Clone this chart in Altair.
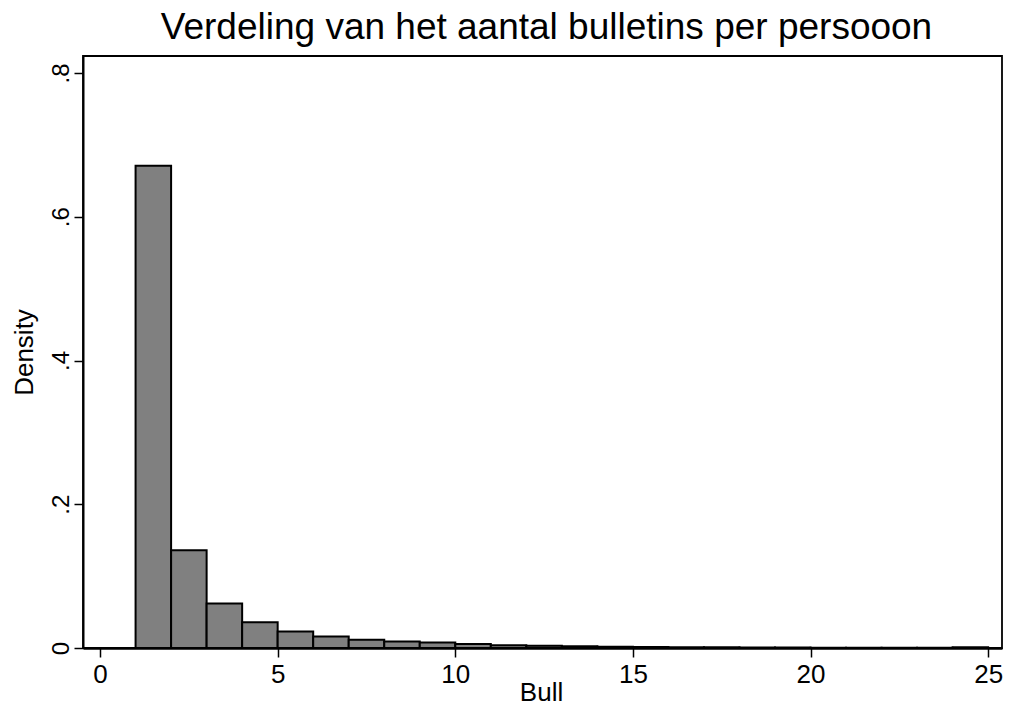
import altair as alt
import pandas as pd

# Histogram bins (width 1) and densities
bin_start = list(range(1, 25))
density = [0.671, 0.136, 0.062, 0.036, 0.023, 0.016, 0.0115, 0.0092, 0.0075,
           0.0055, 0.004, 0.003, 0.0024, 0.0018, 0.0014, 0.0011, 0.0009, 0.0008,
           0.0006, 0.0005, 0.0004, 0.0003, 0.0003, 0.0012]
x_ticks = [0, 5, 10, 15, 20, 25]
y_ticks = [0, 0.2, 0.4, 0.6, 0.8]

df = pd.DataFrame({
    "start": bin_start,
    "end": [s + 1 for s in bin_start],
    "density": density,
})

FONT = "Liberation Sans"
W = 919
H = 592

bars = alt.Chart(df).mark_bar(
    fill="#808080", stroke="black", strokeWidth=2
).encode(
    x=alt.X(
        "start:Q",
        scale=alt.Scale(domain=[-0.48, 25.39], nice=False, zero=False),
        axis=alt.Axis(
            values=x_ticks, format="d", title="Bull", grid=False,
            domain=True, domainColor="black", domainWidth=2.5,
            ticks=True, tickColor="black", tickWidth=1.5, tickSize=9,
            labelFont=FONT, labelFontSize=26, labelColor="black",
            labelPadding=4, labelBaseline="top", labelFlush=False,
            titleFont=FONT, titleFontSize=26, titleFontWeight="normal",
            titleColor="black", titleBaseline="alphabetic", titleY=52,
            titleX=458, titleAlign="center",
        ),
    ),
    x2="end:Q",
    y=alt.Y(
        "density:Q",
        scale=alt.Scale(domain=[0, 0.8237], nice=False),
        axis=alt.Axis(
            values=y_ticks,
            labelExpr="datum.value == 0 ? '0' : slice(format(datum.value, '.1f'), 1)",
            title="Density", grid=False,
            domain=True, domainColor="black", domainWidth=2,
            ticks=True, tickColor="black", tickWidth=1.5, tickSize=9,
            labelFont=FONT, labelFontSize=24, labelColor="black",
            labelAngle=270, labelAlign="center", labelBaseline="alphabetic",
            labelPadding=6, labelFlush=False,
            titleFont=FONT, titleFontSize=26, titleFontWeight="normal",
            titleColor="black", titleAngle=270, titleAlign="center",
            titleBaseline="alphabetic", titleX=-51, titleY=296,
        ),
    ),
    y2=alt.datum(0),
)

chart = bars.properties(
    width=W,
    height=H,
    title=alt.TitleParams(
        text="Verdeling van het aantal bulletins per persooon",
        font=FONT, fontSize=37, fontWeight="normal", color="black",
        anchor="middle", baseline="alphabetic", offset=17, dy=37, dx=4,
    ),
    autosize=alt.AutoSizeParams(type="none"),
    padding={"left": 75, "top": 48, "right": 1, "bottom": 58},
).configure(
    background="white",
    view=alt.ViewConfig(stroke="black", strokeWidth=1.8),
)

chart.save("out.html", embed_options={"renderer": "svg", "actions": False})
